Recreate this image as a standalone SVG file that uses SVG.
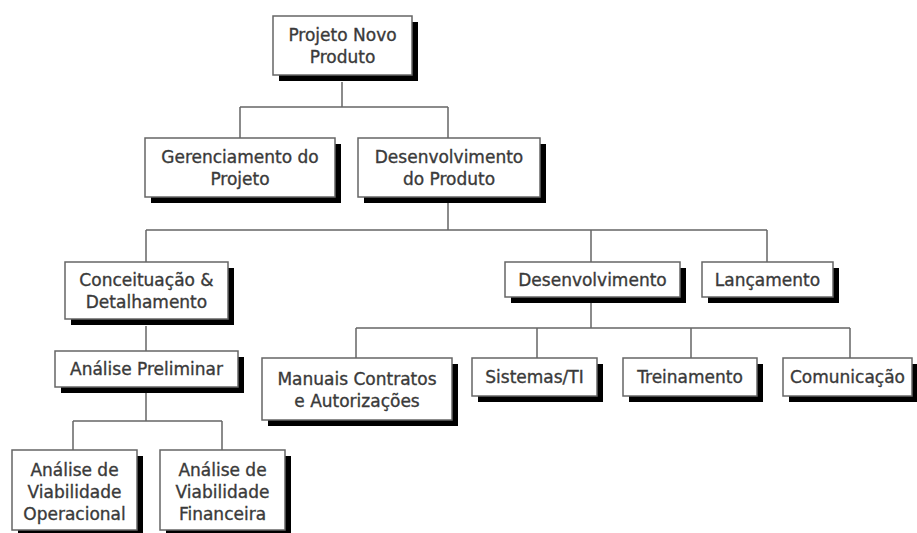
<svg xmlns="http://www.w3.org/2000/svg" width="917" height="533" viewBox="0 0 917 533">
<style>
.sh{fill:#000}
.bx{fill:#fff;stroke:#666;stroke-width:1.5}
.t{font-family:"DejaVu Sans",Verdana,sans-serif;font-size:17px;fill:#3a3a3a;stroke:#3a3a3a;stroke-width:0.35;text-anchor:middle}
.c{fill:none;stroke:#666;stroke-width:1.5}
</style>
<rect width="917" height="533" fill="#fff"/>
<g id="connectors">
<path class="c" d="M342 82V107M240 107H448M240 107V138M448 107V138"/>
<path class="c" d="M448 203V230M146 230H767M146 230V262M591 230V262M767 230V262"/>
<path class="c" d="M146 326V351"/>
<path class="c" d="M146 393V421M73 421H222M73 421V450M222 421V450"/>
<path class="c" d="M591 303V328M356 328H850M356 328V358M537 328V358M691 328V358M850 328V358"/>
</g>
<g id="n1"><rect class="sh" x="279" y="22" width="139" height="59"/><rect class="bx" x="273" y="16" width="139" height="59"/><text class="t" x="342.5" y="41">Projeto Novo</text><text class="t" x="342.5" y="63">Produto</text></g>
<g id="n2"><rect class="sh" x="151" y="144" width="190" height="59"/><rect class="bx" x="145" y="138" width="190" height="59"/><text class="t" x="240" y="163">Gerenciamento do</text><text class="t" x="240" y="185">Projeto</text></g>
<g id="n3"><rect class="sh" x="364" y="144" width="182" height="59"/><rect class="bx" x="358" y="138" width="182" height="59"/><text class="t" x="449" y="163">Desenvolvimento</text><text class="t" x="449" y="185">do Produto</text></g>
<g id="n4"><rect class="sh" x="71" y="268" width="163" height="57"/><rect class="bx" x="65" y="262" width="163" height="57"/><text class="t" x="146.5" y="286">Conceituação &amp;</text><text class="t" x="146.5" y="308">Detalhamento</text></g>
<g id="n5"><rect class="sh" x="511" y="268" width="175" height="35"/><rect class="bx" x="505" y="262" width="175" height="35"/><text class="t" x="592.5" y="285.5">Desenvolvimento</text></g>
<g id="n6"><rect class="sh" x="708" y="268" width="131" height="35"/><rect class="bx" x="702" y="262" width="131" height="35"/><text class="t" x="767.5" y="285.5">Lançamento</text></g>
<g id="n7"><rect class="sh" x="61" y="357" width="183" height="36"/><rect class="bx" x="55" y="351" width="183" height="36"/><text class="t" x="146.5" y="375">Análise Preliminar</text></g>
<g id="n8"><rect class="sh" x="268" y="364" width="190" height="62"/><rect class="bx" x="262" y="358" width="190" height="62"/><text class="t" x="357" y="385">Manuais Contratos</text><text class="t" x="357" y="407">e Autorizações</text></g>
<g id="n9"><rect class="sh" x="478" y="364" width="125" height="38"/><rect class="bx" x="472" y="358" width="125" height="38"/><text class="t" x="534.5" y="383">Sistemas/TI</text></g>
<g id="n10"><rect class="sh" x="629" y="364" width="134" height="38"/><rect class="bx" x="623" y="358" width="134" height="38"/><text class="t" x="690" y="383">Treinamento</text></g>
<g id="n11"><rect class="sh" x="789" y="364" width="129" height="38"/><rect class="bx" x="783" y="358" width="129" height="38"/><text class="t" x="847.5" y="383">Comunicação</text></g>
<g id="n12"><rect class="sh" x="18" y="456" width="125" height="80"/><rect class="bx" x="12" y="450" width="125" height="80"/><text class="t" x="74.5" y="476">Análise de</text><text class="t" x="74.5" y="498">Viabilidade</text><text class="t" x="74.5" y="520">Operacional</text></g>
<g id="n13"><rect class="sh" x="166" y="456" width="125" height="80"/><rect class="bx" x="160" y="450" width="125" height="80"/><text class="t" x="222.5" y="476">Análise de</text><text class="t" x="222.5" y="498">Viabilidade</text><text class="t" x="222.5" y="520">Financeira</text></g>
</svg>
